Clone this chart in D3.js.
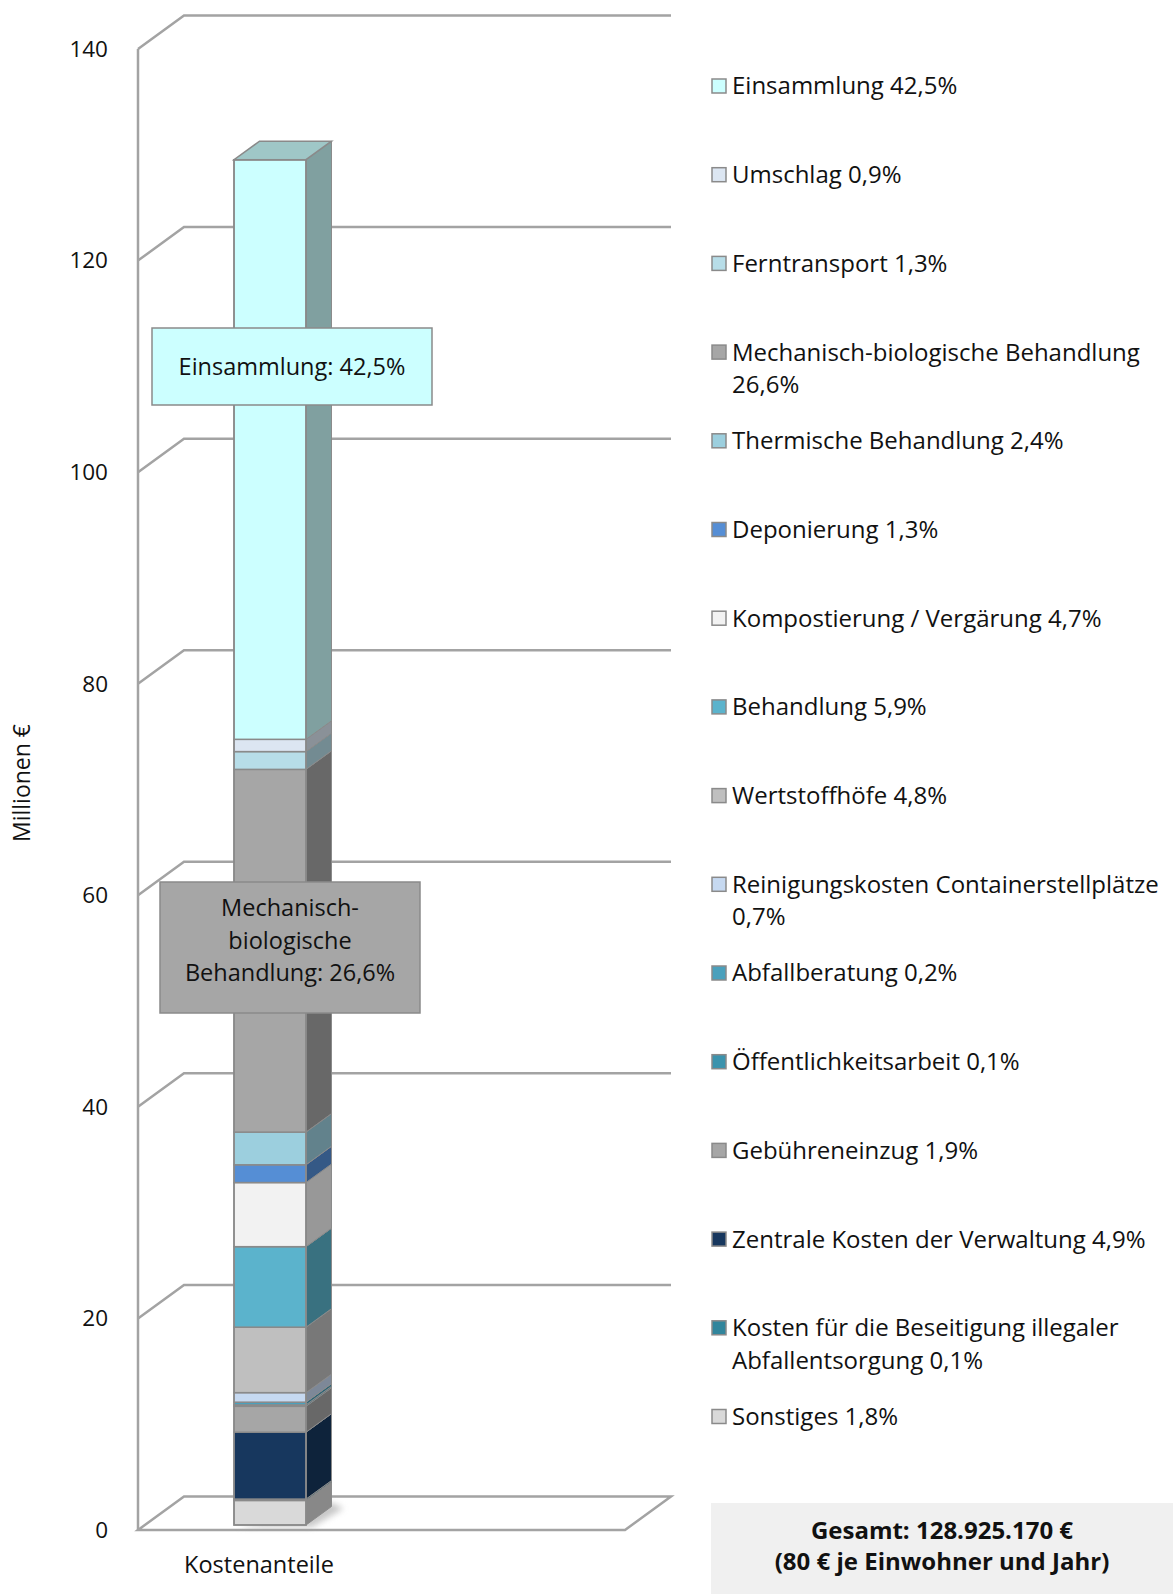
<!DOCTYPE html>
<html>
<head>
<meta charset="utf-8">
<script src="https://cdn.jsdelivr.net/npm/d3@7"></script>
<style>
  body { margin: 0; background: #fff; }
  svg { display: block; font-family: "Open Sans", sans-serif; }
</style>
</head>
<body>
<div id="chart"></div>
<script>
"use strict"

// stack order, bottom to top
const segments = [
  "Sonstiges", "Kosten für die Beseitigung illegaler Abfallentsorgung",
  "Zentrale Kosten der Verwaltung", "Gebühreneinzug", "Öffentlichkeitsarbeit",
  "Abfallberatung", "Reinigungskosten Containerstellplätze", "Wertstoffhöfe",
  "Behandlung", "Kompostierung / Vergärung", "Deponierung", "Thermische Behandlung",
  "Mechanisch-biologische Behandlung", "Ferntransport", "Umschlag", "Einsammlung"
]
// Millionen €
const values = [2.32, 0.13, 6.32, 2.45, 0.13, 0.26, 0.90, 6.19,
                7.61, 6.06, 1.68, 3.09, 34.29, 1.68, 1.16, 54.79]
const shares = ["1,8%", "0,1%", "4,9%", "1,9%", "0,1%", "0,2%", "0,7%", "4,8%",
                "5,9%", "4,7%", "1,3%", "2,4%", "26,6%", "1,3%", "0,9%", "42,5%"]
const colors = ["#d9d9d9", "#31859c", "#17375e", "#a6a6a6", "#3b93ad", "#4aa0bc",
                "#c6d9f1", "#bfbfbf", "#5bb3cc", "#f2f2f2", "#558ed5", "#9ccfde",
                "#a6a6a6", "#b7dde8", "#dce6f2", "#ccffff"]
// legend lines (top to bottom), wrapped as in the original
const legendLines = [
  ["Einsammlung 42,5%"], ["Umschlag 0,9%"], ["Ferntransport 1,3%"],
  ["Mechanisch-biologische Behandlung", "26,6%"], ["Thermische Behandlung 2,4%"],
  ["Deponierung 1,3%"], ["Kompostierung / Vergärung 4,7%"], ["Behandlung 5,9%"],
  ["Wertstoffhöfe 4,8%"], ["Reinigungskosten Containerstellplätze", "0,7%"],
  ["Abfallberatung 0,2%"], ["Öffentlichkeitsarbeit 0,1%"], ["Gebühreneinzug 1,9%"],
  ["Zentrale Kosten der Verwaltung 4,9%"],
  ["Kosten für die Beseitigung illegaler", "Abfallentsorgung 0,1%"], ["Sonstiges 1,8%"]
]
const categories = ["Kostenanteile"]
const yTicks = [0, 20, 40, 60, 80, 100, 120, 140]
const callouts = [
  {seg: "Einsammlung", lines: ["Einsammlung: 42,5%"]},
  {seg: "Mechanisch-biologische Behandlung", lines: ["Mechanisch-", "biologische", "Behandlung: 26,6%"]}
]
const totalLines = ["Gesamt: 128.925.170 €", "(80 € je Einwohner und Jahr)"]

const W = 1173, H = 1594
const svg = d3.select("#chart").append("svg").attr("width", W).attr("height", H)

const defs = svg.append("defs")
defs.append("filter").attr("id", "blur").attr("x", "-50%").attr("y", "-50%")
  .attr("width", "200%").attr("height", "200%")
  .append("feGaussianBlur").attr("stdDeviation", 3)

// 3D geometry
const wallX = 138, floorRight = 625
const depth = {dx: 46, dy: -33.5}      // full wall depth
const barFront = {dx: 0, dy: -5}        // bar front plane offset
const barDepth = {dx: 25.5, dy: -18.5}  // bar thickness in depth

const y = d3.scaleLinear().domain([0, 140]).range([1530, 49])
const x = d3.scaleBand().domain(categories).range([160, 380]).paddingOuter(1.028)

const grid = "#a3a3a3"
const txt = "#111"
const g = svg.append("g")

// floor
g.append("path")
  .attr("d", d3.line()([[wallX, y(0)], [floorRight, y(0)],
    [floorRight + depth.dx, y(0) + depth.dy], [wallX + depth.dx, y(0) + depth.dy]]) + "Z")
  .attr("fill", "none").attr("stroke", grid).attr("stroke-width", 2.5)

// gridlines along side wall + back wall
g.selectAll(".grid").data(yTicks.filter(d => d > 0)).join("path")
  .attr("fill", "none").attr("stroke", grid).attr("stroke-width", 2.5)
  .attr("d", d => d3.line()([[wallX, y(d)], [wallX + depth.dx, y(d) + depth.dy],
    [floorRight + depth.dx, y(d) + depth.dy]]))

// wall front edge
g.append("line").attr("x1", wallX).attr("x2", wallX).attr("y1", y(0)).attr("y2", y(140))
  .attr("stroke", grid).attr("stroke-width", 2.5)

// tick labels
g.selectAll(".tick").data(yTicks).join("text")
  .attr("x", 108).attr("y", d => y(d)).attr("dy", "0.35em")
  .attr("text-anchor", "end").attr("font-size", 22.5).attr("fill", txt)
  .text(d => d)

svg.append("text").attr("transform", "translate(30,783) rotate(-90)")
  .attr("text-anchor", "middle").attr("font-size", 23).attr("fill", txt)
  .text("Millionen €")

// stacked bar
const stackData = [Object.fromEntries(segments.map((s, i) => [s, values[i]]))]
const series = d3.stack().keys(segments)(stackData)
const color = d3.scaleOrdinal(segments, colors)

const bx0 = x(categories[0]) + barFront.dx, bx1 = bx0 + x.bandwidth()
const by = v => y(v) + barFront.dy
const bar = svg.append("g")

// soft shadow at the foot
bar.append("path")
  .attr("d", d3.line()([[bx0 + 4, by(0) + 2], [bx1 + 6, by(0) + 2],
    [bx1 + barDepth.dx + 12, by(0) + barDepth.dy + 2], [bx1 + barDepth.dx, by(0) + barDepth.dy - 4]]) + "Z")
  .attr("fill", "#9a9a9a").attr("opacity", 0.55).attr("filter", "url(#blur)")

series.forEach(s => {
  const [v0, v1] = s[0]
  const c = d3.color(color(s.key))
  const yb = by(v0), yt = by(v1)
  // side face
  bar.append("path")
    .attr("d", d3.line()([[bx1, yb], [bx1 + barDepth.dx, yb + barDepth.dy],
      [bx1 + barDepth.dx, yt + barDepth.dy], [bx1, yt]]) + "Z")
    .attr("fill", c.darker(1.3)).attr("stroke", "#8a8a8a").attr("stroke-width", 1)
  // front face
  bar.append("rect")
    .attr("x", bx0).attr("y", yt).attr("width", bx1 - bx0).attr("height", yb - yt)
    .attr("fill", c).attr("stroke", "#8a8a8a").attr("stroke-width", 1.5)
})
// top face
const topSeries = series[series.length - 1]
const yTop = by(topSeries[0][1])
bar.append("path")
  .attr("d", d3.line()([[bx0, yTop], [bx1, yTop], [bx1 + barDepth.dx, yTop + barDepth.dy],
    [bx0 + barDepth.dx, yTop + barDepth.dy]]) + "Z")
  .attr("fill", d3.color(color(topSeries.key)).darker(0.7)).attr("stroke", "#8a8a8a").attr("stroke-width", 1.5)
// bar outline
bar.append("rect").attr("x", bx0).attr("y", yTop).attr("width", bx1 - bx0).attr("height", by(0) - yTop)
  .attr("fill", "none").attr("stroke", "#8a8a8a").attr("stroke-width", 1.5)

// category label
svg.append("text").attr("x", x(categories[0]) + x.bandwidth() / 2 - 11).attr("y", 1573)
  .attr("text-anchor", "middle").attr("font-size", 23.5).attr("fill", txt)
  .text(categories[0])

// callouts
const calloutBoxes = [
  {x: 152, y: 328, w: 280, h: 77, dy: 39},
  {x: 160, y: 882, w: 260, h: 131, dy: 26}
]
callouts.forEach((co, i) => {
  const b = calloutBoxes[i]
  const cg = svg.append("g")
  cg.append("rect").attr("x", b.x).attr("y", b.y).attr("width", b.w).attr("height", b.h)
    .attr("fill", color(co.seg)).attr("stroke", "#8a8a8a").attr("stroke-width", 1.5)
  cg.selectAll("text").data(co.lines).join("text")
    .attr("x", b.x + b.w / 2).attr("y", (d, j) => b.y + b.dy + j * 32.5).attr("dy", "0.35em")
    .attr("text-anchor", "middle").attr("font-size", 23.5).attr("fill", txt)
    .text(d => d)
})

// legend
const legendSegs = segments.slice().reverse()
const leg = svg.append("g")
legendSegs.forEach((s, i) => {
  const ly = 86 + i * 88.7
  leg.append("rect").attr("x", 712).attr("y", ly - 7).attr("width", 14).attr("height", 14)
    .attr("fill", color(s)).attr("stroke", "#8a8a8a").attr("stroke-width", 1.5)
  leg.selectAll(null).data(legendLines[i]).join("text")
    .attr("x", 732).attr("y", (d, j) => ly + j * 32.5).attr("dy", "0.35em")
    .attr("font-size", 24).attr("fill", txt)
    .text(d => d)
})

// total box
svg.append("rect").attr("x", 711).attr("y", 1503).attr("width", 462).attr("height", 91)
  .attr("fill", "#f0f0f0")
svg.selectAll(".total").data(totalLines).join("text")
  .attr("x", 942).attr("y", (d, i) => 1531 + i * 30.5).attr("dy", "0.35em")
  .attr("text-anchor", "middle").attr("font-size", 24).attr("font-weight", "bold").attr("fill", txt)
  .text(d => d)
</script>
</body>
</html>
